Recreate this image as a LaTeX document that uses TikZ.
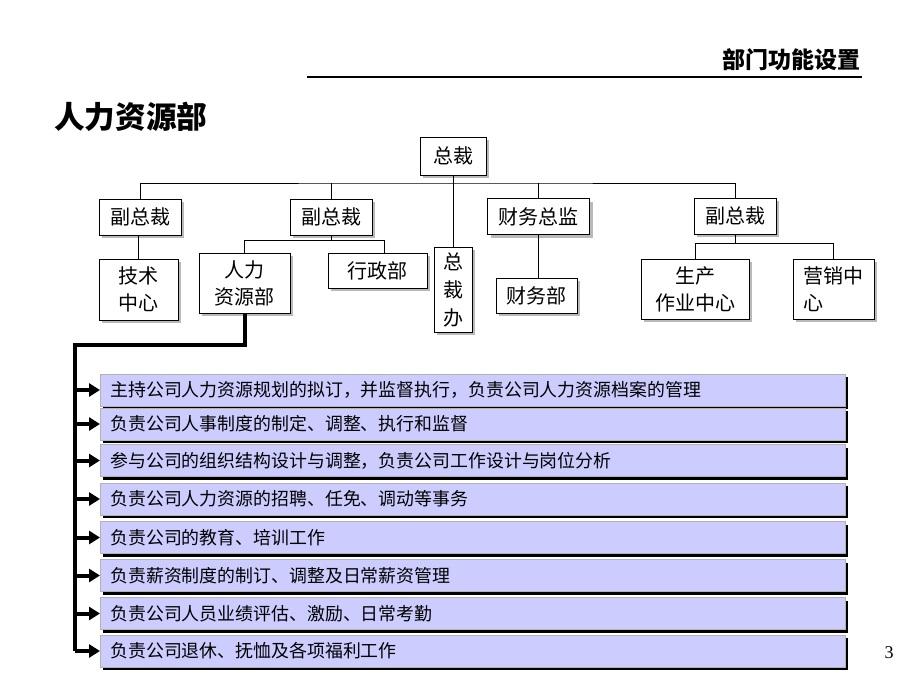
\documentclass[tikz,border=0pt]{standalone}
\usepackage{fontspec}
\setmainfont{Noto Sans CJK SC}
\newfontfamily\pagefont{Liberation Serif}
\usetikzlibrary{arrows.meta,shadows}
\definecolor{dutylilac}{RGB}{204,204,255}

\begin{document}
\begin{tikzpicture}[x=1pt, y=-1pt,
    every node/.style={font=\fontsize{20}{27}\selectfont, inner sep=0pt},
    orgbox/.style={rectangle, draw=black, line width=0.8pt, fill=white, align=center,
                   drop shadow={shadow xshift=3pt, shadow yshift=-3pt, fill=gray!55, opacity=1}},
    dutybox/.style={rectangle, draw=gray!60, line width=0.6pt, fill=dutylilac,
                    minimum width=745pt, minimum height=32pt, text width=725pt, inner xsep=10pt,
                    align=left, anchor=west, font=\fontsize{17.9}{20}\selectfont,
                    drop shadow={shadow xshift=3pt, shadow yshift=-3pt, fill=black, opacity=1}},
    link/.style={draw=black, line width=0.8pt},
    feed/.style={line width=4pt, -{Triangle[length=11pt, width=13pt]}}
]
  \useasboundingbox (0,0) rectangle (920,690);
  \fill[white] (0,0) rectangle (920,690);

  % heading
  \node[font=\fontsize{23}{26}\selectfont\bfseries, anchor=east] (head) at (861,60) {部门功能设置};
  \draw[line width=1.5pt] (307,77) -- (862,77);
  \node[font=\fontsize{30.6}{34}\selectfont\bfseries, anchor=west] (title) at (54,117) {人力资源部};

  % org chart
  \node[orgbox, minimum width=66pt, minimum height=38pt] (ceo) at (453,156) {总裁};
  \node[orgbox, minimum width=82pt, minimum height=36pt] (vpa) at (140,217) {副总裁};
  \node[orgbox, minimum width=82pt, minimum height=36pt] (vpb) at (331,217) {副总裁};
  \node[orgbox, minimum width=102pt, minimum height=36pt] (cfo) at (538.5,216.5) {财务总监};
  \node[orgbox, minimum width=82pt, minimum height=36pt] (vpc) at (735,216) {副总裁};

  \node[orgbox, minimum width=79pt, minimum height=61pt] (tech) at (138.5,289.5) {技术\\中心};
  \node[orgbox, minimum width=91pt, minimum height=60pt] (hr) at (244.5,283) {人力\\资源部};
  \node[orgbox, minimum width=99pt, minimum height=35pt] (admin) at (377.5,270.5) {行政部};
  \node[orgbox, minimum width=38pt, minimum height=85pt, font=\fontsize{20}{28}\selectfont] (office) at (453,289.5) {总\\裁\\办};
  \node[orgbox, minimum width=81pt, minimum height=35pt] (fin) at (536.5,295.5) {财务部};
  \node[orgbox, minimum width=108pt, minimum height=60pt] (prod) at (695,289) {生产\\作业中心};
  \node[orgbox, minimum width=81pt, minimum height=60pt, align=left] (sales) at (833.5,289) {营销中\\心};

  \coordinate (topbus) at (453,183);
  \draw[link] (vpa.north) |- (topbus) -| (vpc.north);
  \draw[link] (vpb.north) -- (vpb.north |- topbus);
  \draw[link] (cfo.north) -- (cfo.north |- topbus);
  \draw[link] (ceo.south) -- (office.north);
  \draw[link] (tech.north |- vpa.south) -- (tech.north);
  \draw[link] (vpb.south) -- ++(0,5) -| (hr.north);
  \draw[link] (vpb.south) ++(0,5) -| ([xshift=7pt]admin.north);
  \draw[link] (cfo.south) -- (cfo.south |- fin.north);
  \draw[link] (vpc.south) -- ++(0,9) -| (prod.north);
  \draw[link] (vpc.south) ++(0,9) -| (sales.north);

  % duties of the HR department
  \node[dutybox] (duty1) at (100,390) {主持公司人力资源规划的拟订，并监督执行，负责公司人力资源档案的管理};
  \node[dutybox] (duty2) at (100,424) {负责公司人事制度的制定、调整、执行和监督};
  \node[dutybox] (duty3) at (100,460.5) {参与公司的组织结构设计与调整，负责公司工作设计与岗位分析};
  \node[dutybox] (duty4) at (100,499) {负责公司人力资源的招聘、任免、调动等事务};
  \node[dutybox] (duty5) at (100,537.5) {负责公司的教育、培训工作};
  \node[dutybox] (duty6) at (100,575.5) {负责薪资制度的制订、调整及日常薪资管理};
  \node[dutybox] (duty7) at (100,613.5) {负责公司人员业绩评估、激励、日常考勤};
  \node[dutybox] (duty8) at (100,651) {负责公司退休、抚恤及各项福利工作};

  \coordinate (spine) at (75,345);
  \draw[line width=4pt] (hr.south) |- (spine) -- (spine |- duty8.west);
  \foreach \i in {1,...,8}
    \draw[feed] (spine |- duty\i.west) -- (duty\i.west);

  \node[font=\pagefont\fontsize{18}{20}\selectfont] (page) at (889,653) {3};

\end{tikzpicture}
\end{document}
